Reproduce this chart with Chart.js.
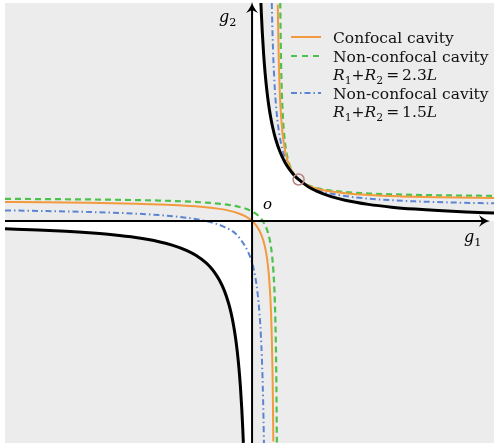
<!DOCTYPE html>
<html>
<head>
<meta charset="utf-8">
<script src="https://cdn.jsdelivr.net/npm/chart.js@4"></script>
<style>
html, body { margin: 0; padding: 0; background: #fff; overflow: hidden; }
canvas { display: block; }
</style>
</head>
<body>
<canvas id="grafico" width="494" height="443" style="width:494px;height:443px"></canvas>
<script>
// limites dos eixos
var g1Min = -5.31, g1Max = 5.2;
var g2Min = -5.35, g2Max = 5.253;

// fronteira de estabilidade g1*g2 = 1 (ramo do 1o quadrante)
var hipQ1_g1 = [0.19, 0.2, 0.22, 0.25, 0.28, 0.32, 0.36, 0.4, 0.45, 0.5, 0.6, 0.7, 0.8, 0.9, 1.0, 1.2, 1.4, 1.7, 2.0, 2.5, 3.0, 3.5, 4.0, 4.6, 5.2];
var hipQ1_g2 = [5.263, 5.0, 4.545, 4.0, 3.571, 3.125, 2.778, 2.5, 2.222, 2.0, 1.667, 1.429, 1.25, 1.111, 1.0, 0.833, 0.714, 0.588, 0.5, 0.4, 0.333, 0.286, 0.25, 0.217, 0.192];
// ramo do 3o quadrante
var hipQ3_g1 = [-5.31, -4.6, -4.0, -3.5, -3.0, -2.5, -2.0, -1.7, -1.4, -1.2, -1.0, -0.9, -0.8, -0.7, -0.6, -0.5, -0.45, -0.4, -0.36, -0.32, -0.28, -0.25, -0.22, -0.2, -0.187];
var hipQ3_g2 = [-0.188, -0.217, -0.25, -0.286, -0.333, -0.4, -0.5, -0.588, -0.714, -0.833, -1.0, -1.111, -1.25, -1.429, -1.667, -2.0, -2.222, -2.5, -2.778, -3.125, -3.571, -4.0, -4.545, -5.0, -5.348];

// cavidade confocal
var confA_g1 = [-5.31, -4.5, -3.5, -2.5, -2.0, -1.5, -1.0, -0.7, -0.5, -0.3, -0.15, 0, 0.1, 0.2, 0.27, 0.32, 0.36, 0.39, 0.41, 0.425, 0.437, 0.447, 0.457];
var confA_g2 = [0.457, 0.45, 0.4375, 0.4167, 0.4, 0.375, 0.333, 0.2917, 0.25, 0.1875, 0.1154, 0, -0.125, -0.333, -0.587, -0.889, -1.286, -1.773, -2.278, -2.833, -3.468, -4.217, -5.314];
var confB_g1 = [0.553, 0.562, 0.575, 0.59, 0.61, 0.64, 0.68, 0.73, 0.8, 0.9, 1.0, 1.1, 1.25, 1.45, 1.7, 2.0, 2.5, 3.2, 4.0, 5.2];
var confB_g2 = [5.217, 4.532, 3.833, 3.278, 2.773, 2.286, 1.889, 1.587, 1.333, 1.125, 1.0, 0.917, 0.833, 0.763, 0.708, 0.667, 0.625, 0.593, 0.571, 0.553];

// nao confocal R1+R2 = 2.3L
var n23A_g1 = [-5.31, -4.5, -3.5, -2.5, -2.0, -1.5, -1.0, -0.6, -0.3, 0, 0.15, 0.25, 0.33, 0.39, 0.43, 0.46, 0.48, 0.497, 0.51, 0.5233, 0.5333];
var n23A_g2 = [0.533, 0.528, 0.519, 0.504, 0.492, 0.474, 0.444, 0.403, 0.347, 0.231, 0.110, -0.035, -0.238, -0.514, -0.833, -1.231, -1.653, -2.206, -2.858, -3.945, -5.357];
var n23B_g1 = [0.6055, 0.62, 0.64, 0.67, 0.71, 0.76, 0.83, 0.92, 1.0, 1.1, 1.25, 1.5, 1.9, 2.5, 3.3, 4.2, 5.2];
var n23B_g2 = [5.258, 4.016, 3.093, 2.369, 1.871, 1.536, 1.279, 1.098, 1.0, 0.919, 0.841, 0.767, 0.707, 0.663, 0.634, 0.617, 0.606];

// nao confocal R1+R2 = 1.5L
var n15A_g1 = [-5.31, -4.5, -3.5, -2.5, -2.0, -1.5, -1.0, -0.6, -0.3, 0, 0.07, 0.12, 0.16, 0.19, 0.21, 0.225, 0.237, 0.247, 0.2551];
var n15A_g2 = [0.2546, 0.2414, 0.2174, 0.1765, 0.1429, 0.0909, 0, -0.1429, -0.3684, -1.0, -1.3544, -1.75, -2.2308, -2.7674, -3.2703, -3.7692, -4.2803, -4.8147, -5.3477];
var n15B_g1 = [0.4237, 0.44, 0.46, 0.49, 0.53, 0.58, 0.65, 0.74, 0.86, 1.0, 1.15, 1.35, 1.65, 2.1, 2.7, 3.5, 4.3, 5.2];
var n15B_g2 = [5.2516, 4.5, 3.8421, 3.1702, 2.5932, 2.1351, 1.7368, 1.4262, 1.1772, 1.0, 0.8776, 0.7705, 0.6709, 0.5849, 0.5211, 0.4737, 0.4454, 0.4247];

// ponto comum (1,1)
var pontoComum = [{ x: 1, y: 1 }];

var corLaranja = '#f29a3e';
var corVerde = '#4cc24c';
var corAzul = '#5c84d4';
var fonteSerif = '"DejaVu Serif", "Liberation Serif", serif';

function pontos(xs, ys) {
    return xs.map(function(x, i) { return { x: x, y: ys[i] }; });
}

// regioes estaveis (0 <= g1 g2 <= 1)
var regiaoQ1 = [{ x: 0, y: 0 }, { x: 0, y: g2Max }].concat(pontos(hipQ1_g1, hipQ1_g2), [{ x: g1Max, y: 0 }]);
var regiaoQ3 = pontos(hipQ3_g1, hipQ3_g2).concat([{ x: 0, y: g2Min }, { x: 0, y: 0 }]);
regiaoQ3.unshift({ x: g1Min, y: 0 });

function curva(dados, cor, largura, traco, ordem) {
    return {
        data: dados,
        borderColor: cor,
        borderWidth: largura,
        borderDash: traco,
        pointRadius: 0,
        fill: false,
        cubicInterpolationMode: 'monotone',
        order: ordem
    };
}

function regiao(dados) {
    return {
        data: dados,
        borderWidth: 0,
        borderColor: 'rgba(0,0,0,0)',
        backgroundColor: '#ffffff',
        pointRadius: 0,
        tension: 0,
        fill: 'origin',
        order: 20
    };
}

var fundoPlugin = {
    id: 'fundo',
    beforeDraw: function(chart) {
        var ctx = chart.ctx, a = chart.chartArea;
        ctx.save();
        ctx.fillStyle = '#ececec';
        ctx.fillRect(a.left, a.top, a.right - a.left, a.bottom - a.top);
        ctx.restore();
    }
};

function seta(ctx, x, y, ang) {
    ctx.save();
    ctx.translate(x, y);
    ctx.rotate(ang);
    ctx.beginPath();
    ctx.moveTo(0, 0);
    ctx.quadraticCurveTo(-5, 1, -11, 6);
    ctx.lineTo(-8, 0);
    ctx.lineTo(-11, -6);
    ctx.quadraticCurveTo(-5, -1, 0, 0);
    ctx.closePath();
    ctx.fillStyle = '#000';
    ctx.fill();
    ctx.restore();
}

function textoRico(ctx, partes, x, y, tam) {
    var cx = x;
    partes.forEach(function(p) {
        var t = p.sub ? tam * 0.7 : tam;
        ctx.font = (p.it ? 'italic ' : '') + t + 'px ' + fonteSerif;
        ctx.fillText(p.t, cx, y + (p.sub ? tam * 0.25 : 0));
        cx += ctx.measureText(p.t).width + (p.esp || 0);
    });
}

var eixosPlugin = {
    id: 'eixos',
    afterDatasetsDraw: function(chart) {
        var ctx = chart.ctx, a = chart.chartArea;
        var x0 = chart.scales.x.getPixelForValue(0);
        var y0 = chart.scales.y.getPixelForValue(0);
        ctx.save();
        ctx.strokeStyle = '#000';
        ctx.lineWidth = 2;
        ctx.beginPath();
        ctx.moveTo(a.left, y0);
        ctx.lineTo(a.right - 8, y0);
        ctx.moveTo(x0, a.bottom);
        ctx.lineTo(x0, a.top + 4);
        ctx.stroke();
        seta(ctx, a.right - 4, y0, 0);
        seta(ctx, x0, a.top - 1, -Math.PI / 2);

        ctx.fillStyle = '#000';
        ctx.textBaseline = 'alphabetic';
        textoRico(ctx, [{ t: 'g', it: true }, { t: '2', sub: true }], x0 - 33, 22, 16);
        textoRico(ctx, [{ t: 'g', it: true }, { t: '1', sub: true }], a.right - 30, y0 + 21, 16);
        textoRico(ctx, [{ t: 'o', it: true }], x0 + 11, y0 - 12, 15);
        ctx.restore();
    }
};

var legendaPlugin = {
    id: 'legenda',
    afterDraw: function(chart) {
        var ctx = chart.ctx;
        var xl = 291, xt = 333, tam = 15.5;
        ctx.save();
        ctx.lineWidth = 2;
        ctx.strokeStyle = corLaranja;
        ctx.beginPath(); ctx.moveTo(xl, 37); ctx.lineTo(xl + 30, 37); ctx.stroke();
        ctx.strokeStyle = corVerde;
        ctx.setLineDash([6, 5]);
        ctx.beginPath(); ctx.moveTo(xl, 56); ctx.lineTo(xl + 30, 56); ctx.stroke();
        ctx.strokeStyle = corAzul;
        ctx.setLineDash([6, 3, 1.5, 3]);
        ctx.beginPath(); ctx.moveTo(xl, 93); ctx.lineTo(xl + 30, 93); ctx.stroke();
        ctx.setLineDash([]);

        ctx.fillStyle = '#111';
        ctx.textBaseline = 'alphabetic';
        ctx.font = tam + 'px ' + fonteSerif;
        ctx.fillText('Confocal cavity', xt, 43);
        ctx.fillText('Non-confocal cavity', xt, 62);
        ctx.fillText('Non-confocal cavity', xt, 99);
        var eq = function(v) {
            return [{ t: 'R', it: true }, { t: '1', sub: true }, { t: '+' }, { t: 'R', it: true }, { t: '2', sub: true, esp: 3 },
                    { t: '=', esp: 3 }, { t: v }, { t: 'L', it: true }];
        };
        textoRico(ctx, eq('2.3'), xt, 80, tam);
        textoRico(ctx, eq('1.5'), xt, 117, tam);
        ctx.restore();
    }
};

new Chart(document.getElementById('grafico'), {
    type: 'line',
    data: {
        datasets: [
            regiao(regiaoQ1),
            regiao(regiaoQ3),
            curva(pontos(n15A_g1, n15A_g2), corAzul, 2, [6, 3, 1.5, 3], 5),
            curva(pontos(n15B_g1, n15B_g2), corAzul, 2, [6, 3, 1.5, 3], 5),
            curva(pontos(n23A_g1, n23A_g2), corVerde, 2.2, [6, 4], 4),
            curva(pontos(n23B_g1, n23B_g2), corVerde, 2.2, [6, 4], 4),
            curva(pontos(confA_g1, confA_g2), corLaranja, 2, [], 3),
            curva(pontos(confB_g1, confB_g2), corLaranja, 2, [], 3),
            curva(pontos(hipQ1_g1, hipQ1_g2), '#000', 3, [], 2),
            curva(pontos(hipQ3_g1, hipQ3_g2), '#000', 3, [], 2),
            {
                data: pontoComum,
                showLine: false,
                pointRadius: 5.5,
                pointBorderWidth: 1.5,
                pointBorderColor: '#b98484',
                pointBackgroundColor: 'rgba(0,0,0,0)',
                order: 1
            }
        ]
    },
    options: {
        responsive: false,
        animation: false,
        devicePixelRatio: 1,
        layout: { autoPadding: false, padding: { left: 5, top: 3, right: 0, bottom: 0 } },
        scales: {
            x: { type: 'linear', min: g1Min, max: g1Max, display: false },
            y: { type: 'linear', min: g2Min, max: g2Max, display: false }
        },
        plugins: {
            legend: { display: false },
            tooltip: { enabled: false }
        }
    },
    plugins: [fundoPlugin, eixosPlugin, legendaPlugin]
});
</script>
</body>
</html>
